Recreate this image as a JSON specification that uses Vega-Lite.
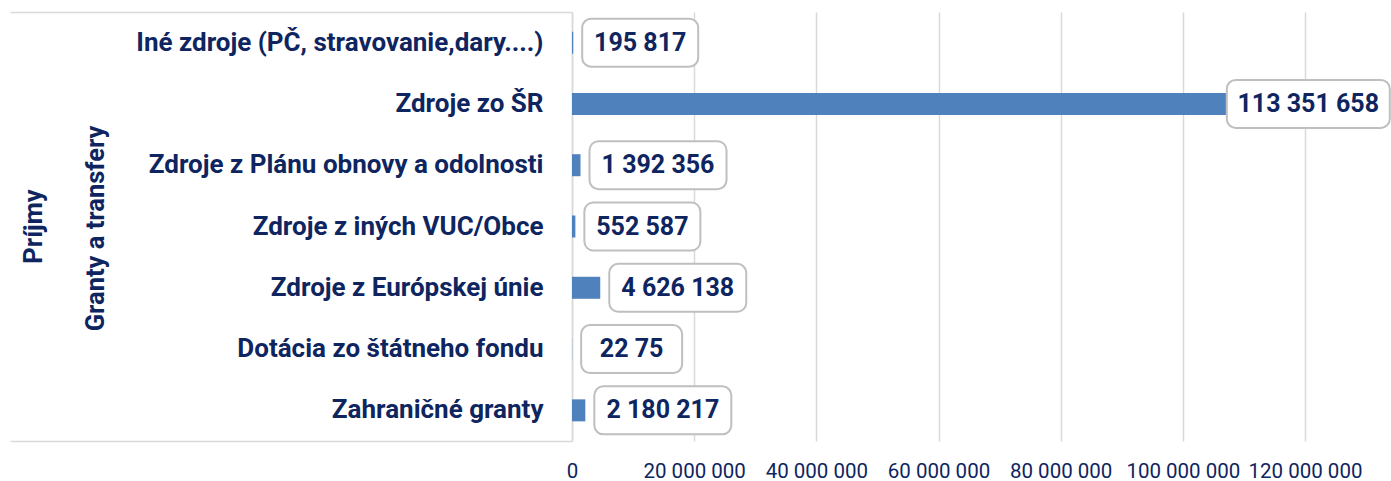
{
  "$schema": "https://vega.github.io/schema/vega-lite/v6.json",
  "width": 733,
  "height": 429,
  "autosize": {"type": "none"},
  "padding": {"left": 572, "top": 12, "right": 86, "bottom": 40},
  "background": "white",
  "config": {
    "view": {"stroke": null},
    "font": "Roboto",
    "locale": {"number": {"decimal": ",", "thousands": " ", "grouping": [3], "currency": ["", " €"]}}
  },
  "data": {
    "values": [
      {"cat": "Iné zdroje (PČ, stravovanie,dary....)", "value": 195817, "label": "195 817"},
      {"cat": "Zdroje zo ŠR", "value": 113351658, "label": "113 351 658"},
      {"cat": "Zdroje z Plánu obnovy a odolnosti", "value": 1392356, "label": "1 392 356"},
      {"cat": "Zdroje z iných VUC/Obce", "value": 552587, "label": "552 587"},
      {"cat": "Zdroje z Európskej únie", "value": 4626138, "label": "4 626 138"},
      {"cat": "Dotácia zo štátneho fondu", "value": 22750, "label": "22 75"},
      {"cat": "Zahraničné granty", "value": 2180217, "label": "2 180 217"}
    ]
  },
  "layer": [
    {
      "encoding": {
        "y": {
          "field": "cat",
          "type": "nominal",
          "sort": null,
          "scale": {"paddingInner": 0, "paddingOuter": 0},
          "axis": {
            "orient": "left",
            "title": "Granty a transfery",
            "titleAngle": -90,
            "titleX": -477,
            "titleY": 216,
            "titleAlign": "center",
            "titleBaseline": "middle",
            "titleFont": "Roboto",
            "titleFontSize": 25.5,
            "titleFontWeight": "bold",
            "titleColor": "#0E2560",
            "labelFont": "Roboto",
            "labelFontSize": 26,
            "labelFontWeight": "bold",
            "labelColor": "#0E2560",
            "labelPadding": 29,
            "labelLimit": 700,
            "ticks": false,
            "domain": true,
            "domainColor": "#D9D9D9",
            "domainWidth": 1.5
          }
        },
        "x": {
          "field": "value",
          "type": "quantitative",
          "scale": {"domain": [0, 120000000], "nice": false},
          "axis": {
            "values": [0, 20000000, 40000000, 60000000, 80000000, 100000000, 120000000],
            "format": ",d",
            "title": null,
            "grid": true,
            "gridColor": "#D9D9D9",
            "gridWidth": 1.5,
            "domain": false,
            "ticks": false,
            "labelFont": "Roboto",
            "labelFontSize": 20.5,
            "labelColor": "#0E2560",
            "labelPadding": 20,
            "labelOverlap": false,
            "labelFlush": false
          }
        }
      },
      "layer": [
        {"mark": {"type": "bar", "height": 22, "color": "#4F81BD"}},
        {
          "transform": [{"filter": {"field": "label", "oneOf": ["195 817", "552 587"]}}],
          "layer": [
            {"mark": {"type": "rect", "xOffset": 9, "x2Offset": 125, "height": 48, "cornerRadius": 9, "fill": "white", "stroke": "#BFBFBF", "strokeWidth": 2}, "encoding": {"x2": {"field": "value"}}},
            {"mark": {"type": "text", "xOffset": 67, "align": "center", "baseline": "middle", "fontSize": 25, "fontWeight": "bold", "color": "#0E2560"}, "encoding": {"text": {"field": "label"}}}
          ]
        },
        {
          "transform": [{"filter": {"field": "label", "oneOf": ["1 392 356", "4 626 138", "2 180 217"]}}],
          "layer": [
            {"mark": {"type": "rect", "xOffset": 9, "x2Offset": 146, "height": 48, "cornerRadius": 9, "fill": "white", "stroke": "#BFBFBF", "strokeWidth": 2}, "encoding": {"x2": {"field": "value"}}},
            {"mark": {"type": "text", "xOffset": 77.5, "align": "center", "baseline": "middle", "fontSize": 25, "fontWeight": "bold", "color": "#0E2560"}, "encoding": {"text": {"field": "label"}}}
          ]
        },
        {
          "transform": [{"filter": {"field": "label", "oneOf": ["22 75"]}}],
          "layer": [
            {"mark": {"type": "rect", "xOffset": 9, "x2Offset": 110, "height": 48, "cornerRadius": 9, "fill": "white", "stroke": "#BFBFBF", "strokeWidth": 2}, "encoding": {"x2": {"field": "value"}}},
            {"mark": {"type": "text", "xOffset": 59.5, "align": "center", "baseline": "middle", "fontSize": 25, "fontWeight": "bold", "color": "#0E2560"}, "encoding": {"text": {"field": "label"}}}
          ]
        },
        {
          "transform": [{"filter": {"field": "label", "oneOf": ["113 351 658"]}}],
          "layer": [
            {"mark": {"type": "rect", "xOffset": -37.6, "x2Offset": 125.4, "height": 48, "cornerRadius": 9, "fill": "white", "stroke": "#BFBFBF", "strokeWidth": 2}, "encoding": {"x2": {"field": "value"}}},
            {"mark": {"type": "text", "xOffset": 43.9, "align": "center", "baseline": "middle", "fontSize": 25, "fontWeight": "bold", "color": "#0E2560"}, "encoding": {"text": {"field": "label"}}}
          ]
        }
      ]
    },
    {
      "mark": {"type": "point", "opacity": 0},
      "encoding": {
        "y": {
          "datum": 0,
          "type": "quantitative",
          "scale": {"domain": [0, 1], "nice": false, "zero": false},
          "axis": {
            "orient": "left",
            "values": [0, 1],
            "ticks": true,
            "tickSize": 562,
            "tickColor": "#D9D9D9",
            "tickWidth": 1.5,
            "labels": false,
            "domain": false,
            "grid": false,
            "title": "Príjmy",
            "titleAngle": -90,
            "titleX": -539,
            "titleY": 214,
            "titleAlign": "center",
            "titleBaseline": "middle",
            "titleFont": "Roboto",
            "titleFontSize": 25.5,
            "titleFontWeight": "bold",
            "titleColor": "#0E2560"
          }
        }
      }
    }
  ],
  "resolve": {"scale": {"y": "independent"}, "axis": {"y": "independent"}}
}
